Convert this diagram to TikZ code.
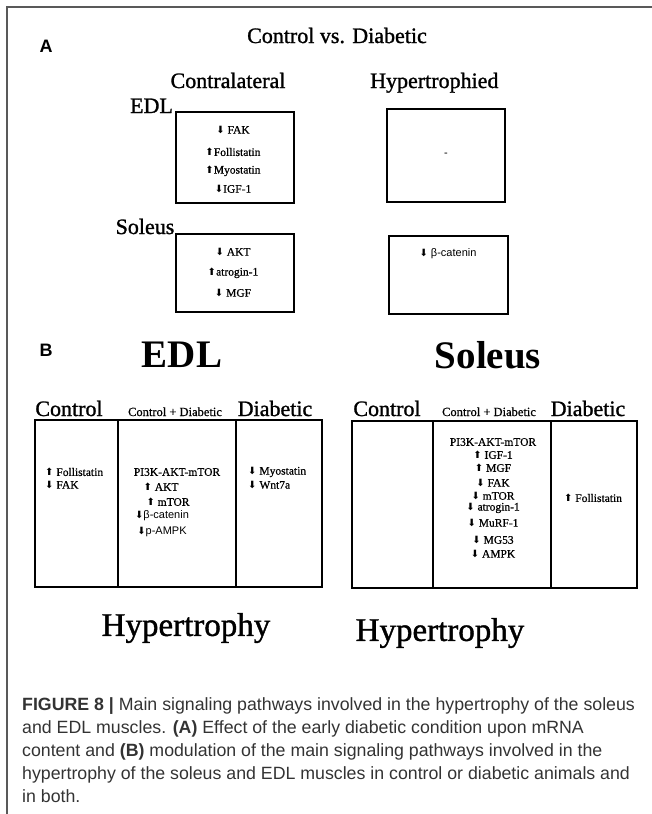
\documentclass[tikz,border=0pt]{standalone}
\usepackage{fontspec}
\setmainfont{Liberation Serif}
\newfontfamily\serifT{Liberation Serif}[FakeBold=1.2]
\newfontfamily\serifI{Liberation Serif}[FakeBold=0.7]
\newfontfamily\sansf{Liberation Sans}
\newfontfamily\dejavu{DejaVu Sans}
\newcommand{\UpA}{{\dejavu\fontsize{10}{10}\selectfont ⬆}}
\newcommand{\DnA}{{\dejavu\fontsize{10}{10}\selectfont ⬇}}
\begin{document}
\begin{tikzpicture}[x=1pt,y=-1pt,
 frameline/.style={draw=black!65, line width=1.5pt},
 cellbox/.style={draw, line width=2.5pt, inner sep=0},
 titletxt/.style={inner sep=0, anchor=base, font=\serifT\fontsize{22}{22}\selectfont},
 bigtxt/.style={inner sep=0, font=\fontsize{39}{39}\selectfont\bfseries},
 hyptxt/.style={inner sep=0, font=\serifT\fontsize{33}{33}\selectfont},
 hdrtxt/.style={inner sep=0, anchor=base, font=\serifT\fontsize{22}{22}\selectfont},
 shdrtxt/.style={inner sep=0, anchor=base, font=\serifI\fontsize{12.5}{12.5}\selectfont},
 itm/.style={inner sep=0, font=\serifI\fontsize{11.5}{12}\selectfont},
 sitm/.style={inner sep=0, font=\sansf\fontsize{11}{12}\selectfont},
 paneltxt/.style={inner sep=0, font=\sansf\bfseries\fontsize{18}{18}\selectfont},
 captxt/.style={inner sep=0, anchor=base west, text=black!80, font=\sansf\fontsize{17.75}{23}\selectfont}
]
\useasboundingbox (0,0) rectangle (652,814);
% frame
\coordinate (ftl) at (7,7);
\coordinate (ftr) at (652,7);
\coordinate (fbl) at (7,814);
\draw[frameline] (ftr) -- (ftl) -- (fbl);

% ---------- Panel A ----------
\node[paneltxt] (pA) at (46,46) {A};
\node[titletxt] (tcvd) at (337,43) {Control vs. Diabetic};
\node[titletxt] (tcon) at (228,88) {Contralateral};
\node[titletxt, anchor=base west] (thyp) at (370,88) {Hypertrophied};
\node[hdrtxt] (tedl) at (151.5,113) {EDL};
\node[hdrtxt] (tsol) at (145,234) {Soleus};

\node[cellbox, minimum width=118, minimum height=91] (edlc) at (235,157.5) {};
\node[cellbox, minimum width=118, minimum height=93] (edlh) at (446,155.5) {};
\node[cellbox, minimum width=118, minimum height=78] (solc) at (235,273) {};
\node[cellbox, minimum width=119, minimum height=78] (solh) at (448.5,275) {};

\node[itm] (a1) at (233,130) {\DnA\ FAK};
\node[itm] (a2) at (233,152) {\UpA Follistatin};
\node[itm] (a3) at (233,171) {\UpA Myostatin};
\node[itm] (a4) at (233,189) {\DnA IGF-1};
\node[itm] (a5) at (233,252) {\DnA\ AKT};
\node[itm] (a6) at (233,273) {\UpA atrogin-1};
\node[itm] (a7) at (233,293) {\DnA\ MGF};
\node[sitm] (a8) at (446,155) {-};
\node[sitm] (a9) at (448,254) {\DnA\ β-catenin};

% ---------- Panel B ----------
\node[paneltxt] (pB) at (46,350) {B};
\node[bigtxt] (bedl) at (182,355) {EDL};
\node[bigtxt] (bsol) at (488,355) {Soleus};

% EDL table
\node[hdrtxt] (h1) at (69,416) {Control};
\node[shdrtxt] (h2) at (175,416) {Control + Diabetic};
\node[hdrtxt] (h3) at (275,416) {Diabetic};
\node[cellbox, minimum width=83, minimum height=167] (ec1) at (76.5,503.5) {};
\node[cellbox, minimum width=118, minimum height=167] (ec2) at (177,503.5) {};
\node[cellbox, minimum width=86, minimum height=167] (ec3) at (279,503.5) {};

\node[itm, anchor=west] (e1) at (45,472) {\UpA\ Follistatin};
\node[itm, anchor=west] (e2) at (45,485) {\DnA\ FAK};
\node[itm] (e3) at (177,472) {PI3K-AKT-mTOR};
\node[itm] (e4) at (161,487) {\UpA\ AKT};
\node[itm] (e5) at (168,502) {\UpA\ mTOR};
\node[sitm] (e6) at (162,516) {\DnA β-catenin};
\node[sitm] (e7) at (162,532) {\DnA p-AMPK};
\node[itm, anchor=west] (e8) at (248,472) {\DnA\ Myostatin};
\node[itm, anchor=west] (e9) at (248,485) {\DnA\ Wnt7a};

% Soleus table
\node[hdrtxt] (k1) at (387,416) {Control};
\node[shdrtxt] (k2) at (489,416) {Control + Diabetic};
\node[hdrtxt] (k3) at (588,416) {Diabetic};
\node[cellbox, minimum width=81, minimum height=167] (sc1) at (392.5,504.5) {};
\node[cellbox, minimum width=118, minimum height=167] (sc2) at (492,504.5) {};
\node[cellbox, minimum width=86, minimum height=167] (sc3) at (594,504.5) {};

\node[itm] (s1) at (493,442) {PI3K-AKT-mTOR};
\node[itm] (s2) at (493,455) {\UpA\ IGF-1};
\node[itm] (s3) at (493,468) {\UpA\ MGF};
\node[itm] (s4) at (493,483) {\DnA\ FAK};
\node[itm] (s5) at (493,496) {\DnA\ mTOR};
\node[itm] (s6) at (493,508) {\DnA\ atrogin-1};
\node[itm] (s7) at (493,523) {\DnA\ MuRF-1};
\node[itm] (s8) at (493,540) {\DnA\ MG53};
\node[itm] (s9) at (493,554) {\DnA\ AMPK};
\node[itm] (s10) at (593,498) {\UpA\ Follistatin};

\node[hyptxt] (hy1) at (186,628) {Hypertrophy};
\node[hyptxt] (hy2) at (440,633) {Hypertrophy};

% ---------- Caption ----------
\node[captxt] (c1) at (22,710) {\textbf{FIGURE 8 |} Main signaling pathways involved in the hypertrophy of the soleus};
\node[captxt] (c2) at (22,733) {and EDL muscles. \textbf{(A)} Effect of the early diabetic condition upon mRNA};
\node[captxt] (c3) at (22,756) {content and \textbf{(B)} modulation of the main signaling pathways involved in the};
\node[captxt] (c4) at (22,779) {hypertrophy of the soleus and EDL muscles in control or diabetic animals and};
\node[captxt] (c5) at (22,802) {in both.};
\end{tikzpicture}
\end{document}
